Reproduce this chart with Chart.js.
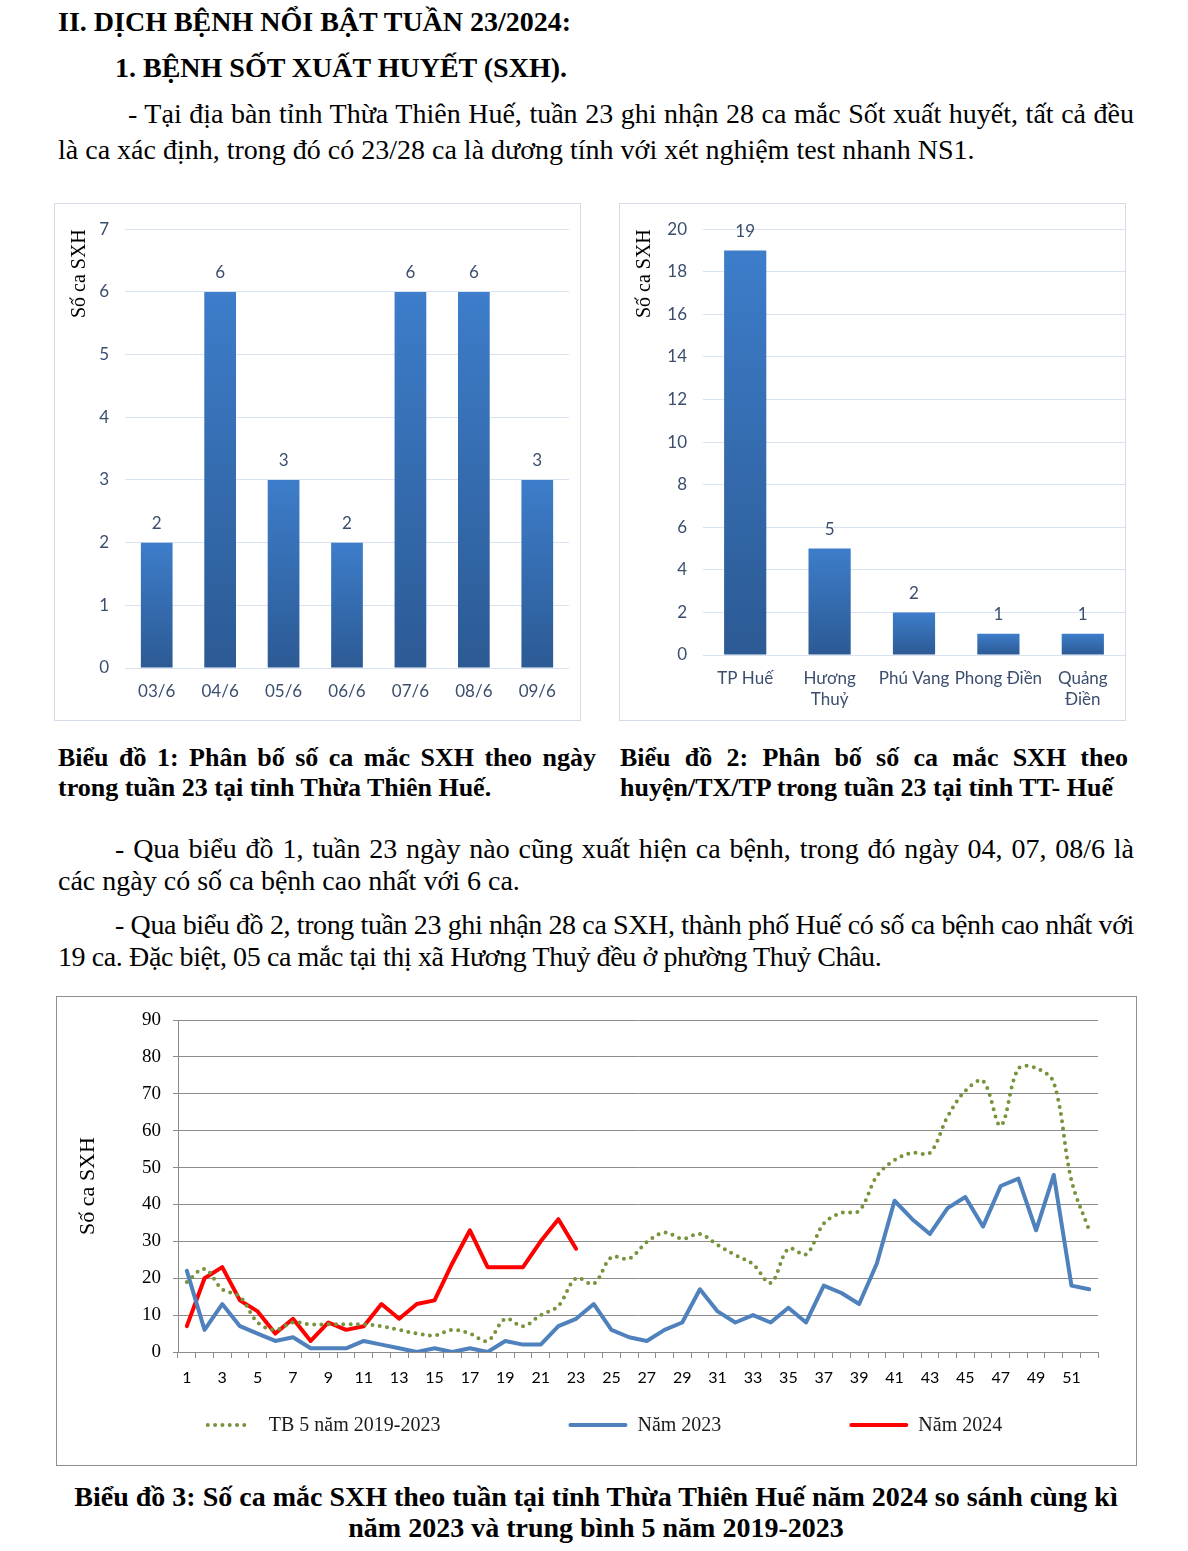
<!DOCTYPE html>
<html>
<head>
<meta charset="utf-8">
<script src="https://cdn.jsdelivr.net/npm/chart.js@4.4.1/dist/chart.umd.min.js"></script>
<style>
  body { margin: 0; background: #fff; width: 1188px; height: 1551px; position: relative; font-family: "Liberation Serif", "Times New Roman", serif; color: #000; }
  .ln { position: absolute; white-space: nowrap; font-size: 28px; height: 36px; line-height: 36px; }
  .cap { position: absolute; white-space: nowrap; font-size: 26px; font-weight: bold; height: 30px; line-height: 30px; }
  .j { text-align: justify; text-align-last: justify; }
  .b { font-weight: bold; }
  .c { text-align: center; font-size: 28px; }
  .tight { letter-spacing: -0.4px; }
  canvas { position: absolute; }
  .frame { position: absolute; box-sizing: border-box; pointer-events: none; }
</style>
</head>
<body>

<div class="ln b" style="left:58px;top:4px">II. DỊCH BỆNH NỔI BẬT TUẦN 23/2024:</div>
<div class="ln b" style="left:115px;top:50px">1. BỆNH SỐT XUẤT HUYẾT (SXH).</div>
<div class="ln j" style="left:128px;top:96px;width:1006px">- Tại địa bàn tỉnh Thừa Thiên Huế, tuần 23 ghi nhận 28 ca mắc Sốt xuất huyết, tất cả đều</div>
<div class="ln" style="left:58px;top:132px">là ca xác định, trong đó có 23/28 ca là dương tính với xét nghiệm test nhanh NS1.</div>

<canvas id="c1" width="527" height="518" style="left:54px;top:203px"></canvas>
<div class="frame" style="left:54px;top:203px;width:527px;height:518px;border:1px solid #d3dbe7"></div>
<canvas id="c2" width="507" height="518" style="left:619px;top:203px"></canvas>
<div class="frame" style="left:619px;top:203px;width:507px;height:518px;border:1px solid #d3dbe7"></div>

<div class="cap j" style="left:58px;top:743px;width:538px">Biểu đồ 1: Phân bố số ca mắc SXH theo ngày</div>
<div class="cap" style="left:58px;top:773px">trong tuần 23 tại tỉnh Thừa Thiên Huế.</div>
<div class="cap j" style="left:620px;top:743px;width:508px">Biểu đồ 2: Phân bố số ca mắc SXH theo</div>
<div class="cap" style="left:620px;top:773px">huyện/TX/TP trong tuần 23 tại tỉnh TT- Huế</div>

<div class="ln j" style="left:115px;top:831px;width:1019px">- Qua biểu đồ 1, tuần 23 ngày nào cũng xuất hiện ca bệnh, trong đó ngày 04, 07, 08/6 là</div>
<div class="ln" style="left:58px;top:863px">các ngày có số ca bệnh cao nhất với 6 ca.</div>
<div class="ln j tight" style="left:115px;top:907px;width:1019px">- Qua biểu đồ 2, trong tuần 23 ghi nhận 28 ca SXH, thành phố Huế có số ca bệnh cao nhất với</div>
<div class="ln tight" style="left:58px;top:939px">19 ca. Đặc biệt, 05 ca mắc tại thị xã Hương Thuỷ đều ở phường Thuỷ Châu.</div>

<canvas id="c3" width="1081" height="470" style="left:56px;top:996px"></canvas>
<div class="frame" style="left:56px;top:996px;width:1081px;height:470px;border:1.5px solid #8f8f8f"></div>

<div class="cap c" style="left:2px;top:1482px;width:1188px">Biểu đồ 3: Số ca mắc SXH theo tuần tại tỉnh Thừa Thiên Huế năm 2024 so sánh cùng kì</div>
<div class="cap c" style="left:2px;top:1513px;width:1188px">năm 2023 và trung bình 5 năm 2019-2023</div>

<script>
// chart 1 - cases by day, week 23
const dayLabels = ["03/6", "04/6", "05/6", "06/6", "07/6", "08/6", "09/6"]
const dayCases = [2, 6, 3, 2, 6, 6, 3]

// chart 2 - cases by district
const districtLabels = ["TP Huế", ["Hương", "Thuỷ"], "Phú Vang", "Phong Điền", ["Quảng", "Điền"]]
const districtCases = [19, 5, 2, 1, 1]

// chart 3 - weekly cases
const weeks = [1, 2, 3, 4, 5, 6, 7, 8, 9, 10, 11, 12, 13, 14, 15, 16, 17, 18, 19, 20, 21, 22, 23, 24, 25, 26,
  27, 28, 29, 30, 31, 32, 33, 34, 35, 36, 37, 38, 39, 40, 41, 42, 43, 44, 45, 46, 47, 48, 49, 50, 51, 52]
const avg5Years = [19, 22.5, 17, 15, 8, 6, 8, 7.5, 7.5, 7.5, 7.5, 7, 6, 5, 4.5, 6, 5, 3, 9, 7, 10, 12.5, 20, 18.5, 25.7, 25.3,
  29.8, 32.4, 30.7, 32, 29, 26.3, 23.8, 18.7, 28, 26.5, 34.8, 37.7, 38.3, 47.7, 52, 54, 54, 63.8, 70.8, 73.5, 61.4, 76.8, 77, 73, 46.5, 33]
const cases2023 = [22, 6, 13, 7, 5, 3, 4, 1, 1, 1, 3, 2, 1, 0, 1, 0, 1, 0, 3, 2, 2, 7, 9, 13, 6, 4,
  3, 6, 8, 17, 11, 8, 10, 8, 12, 8, 18, 16, 13, 24, 41, 36, 32, 39, 42, 34, 45, 47, 33, 48, 18, 17]
const cases2024 = [7, 20, 23, 14, 11, 5, 9, 3, 8, 6, 7, 13, 9, 13, 14, 24, 33, 23, 23, 23, 30, 36, 28]

const tickColor = "#3b4e6e"
const sans = "Lato, 'Open Sans', sans-serif"
const serif = "'Liberation Serif', 'Times New Roman', serif"

function barGradient(c) {
  const y = c.chart.scales.y
  if (c.type !== "data" || !y) return "#3a74bd"
  const top = y.getPixelForValue(c.raw)
  const bottom = y.getPixelForValue(0)
  if (!isFinite(top) || !isFinite(bottom) || top === bottom) return "#3a74bd"
  const g = c.chart.ctx.createLinearGradient(0, top, 0, bottom)
  g.addColorStop(0, "#3d7dca")
  g.addColorStop(1, "#2c5a94")
  return g
}

const valueLabels = {
  id: "valueLabels",
  afterDatasetsDraw(chart) {
    const { ctx } = chart
    const ds = chart.data.datasets[0]
    ctx.save()
    ctx.font = "17px " + sans
    ctx.fillStyle = tickColor
    ctx.textAlign = "center"
    ctx.textBaseline = "middle"
    chart.getDatasetMeta(0).data.forEach((bar, i) => {
      ctx.fillText(ds.data[i], bar.x, bar.y - 19)
    })
    ctx.restore()
  },
}

function barChart(id, labels, values, max, step, pad, yWidth, xHeight, titlePad, xLabelPad) {
  return new Chart(document.getElementById(id), {
    type: "bar",
    data: {
      labels: labels,
      datasets: [{ data: values, backgroundColor: barGradient, categoryPercentage: 1, barPercentage: 0.5 }],
    },
    options: {
      responsive: false,
      animation: false,
      layout: { padding: pad },
      plugins: { legend: { display: false }, tooltip: { enabled: false } },
      scales: {
        x: {
          grid: { display: false },
          border: { display: false },
          ticks: { color: tickColor, padding: xLabelPad, maxRotation: 0, autoSkip: false, font: { family: sans, size: 17, lineHeight: 1.25 } },
          afterFit(s) { s.height = xHeight },
        },
        y: {
          min: 0,
          max: max,
          ticks: { stepSize: step, color: tickColor, padding: 16, font: { family: sans, size: 17 } },
          grid: { color: "#d8e2f0", drawTicks: false },
          border: { display: false },
          title: { display: true, text: "Số ca SXH", align: "end", color: "#000", padding: { top: 14 }, font: { family: serif, size: 20 } },
          afterFit(s) { s.width = yWidth },
        },
      },
    },
    plugins: [valueLabels],
  })
}

barChart("c1", dayLabels, dayCases, 7, 1, { left: 0, top: 24, right: 12, bottom: 0 }, 71, 53, 14, 5)
barChart("c2", districtLabels, districtCases, 20, 2, { left: 0, top: 24, right: 1, bottom: 0 }, 84, 66, 14, 5)

const bottomLegend = {
  id: "bottomLegend",
  afterDraw(chart) {
    const { ctx } = chart
    const sample = 55, gap = 12, spacing = 130, cy = 429, center = 546
    ctx.save()
    ctx.font = "20px " + serif
    const items = chart.data.datasets.map(ds => ({ ds, w: sample + gap + ctx.measureText(ds.label).width }))
    const total = items.reduce((s, it) => s + it.w, 0) + spacing * (items.length - 1)
    let x = center - total / 2
    items.forEach(({ ds, w }) => {
      ctx.beginPath()
      ctx.setLineDash(ds.borderDash || [])
      ctx.lineCap = ds.borderCapStyle || "butt"
      ctx.lineWidth = ds.borderWidth
      ctx.strokeStyle = ds.borderColor
      // dotted sample is a bit shorter in the original
      const inset = ds.borderDash ? 6 : 0
      ctx.moveTo(x + inset, cy)
      ctx.lineTo(x + sample - inset, cy)
      ctx.stroke()
      ctx.setLineDash([])
      ctx.fillStyle = "#1a1a1a"
      ctx.textBaseline = "middle"
      ctx.fillText(ds.label, x + sample + gap, cy + 1)
      x += w + spacing
    })
    ctx.restore()
  },
}

new Chart(document.getElementById("c3"), {
  type: "line",
  data: {
    labels: weeks,
    datasets: [
      {
        label: "TB 5 năm 2019-2023",
        data: avg5Years,
        borderColor: "#77933c",
        borderWidth: 4,
        borderDash: [0, 7.3],
        borderCapStyle: "round",
        tension: 0.35,
        pointRadius: 0,
      },
      {
        label: "Năm 2023",
        data: cases2023,
        borderColor: "#4f81bd",
        borderWidth: 4,
        borderCapStyle: "round",
        borderJoinStyle: "round",
        tension: 0,
        pointRadius: 0,
      },
      {
        label: "Năm 2024",
        data: cases2024,
        borderColor: "#ff0000",
        borderWidth: 4,
        borderCapStyle: "round",
        borderJoinStyle: "round",
        tension: 0,
        pointRadius: 0,
      },
    ],
  },
  options: {
    responsive: false,
    animation: false,
    layout: { padding: { left: 0, top: 24, right: 39, bottom: 0 } },
    plugins: { legend: { display: false }, tooltip: { enabled: false } },
    scales: {
      x: {
        offset: true,
        grid: { display: true, drawOnChartArea: false, offset: true, tickLength: 6, color: "#8c8c8c" },
        border: { display: true, color: "#8c8c8c" },
        ticks: {
          autoSkip: false,
          maxRotation: 0,
          padding: 10,
          color: "#000",
          font: { family: sans, size: 16 },
          callback(val, i) { return i % 2 === 0 ? this.getLabelForValue(val) : "" },
        },
        afterFit(s) { s.height = 114 },
      },
      y: {
        min: 0,
        max: 90,
        ticks: { stepSize: 10, padding: 12, color: "#000", font: { family: serif, size: 19 } },
        grid: { color: "#8c8c8c", tickLength: 5 },
        border: { display: true, color: "#8c8c8c" },
        title: { display: true, text: "Số ca SXH", color: "#000", padding: { top: 19 }, font: { family: serif, size: 22 } },
        afterFit(s) { s.width = 122 },
      },
    },
  },
  plugins: [bottomLegend],
})
</script>
</body>
</html>
